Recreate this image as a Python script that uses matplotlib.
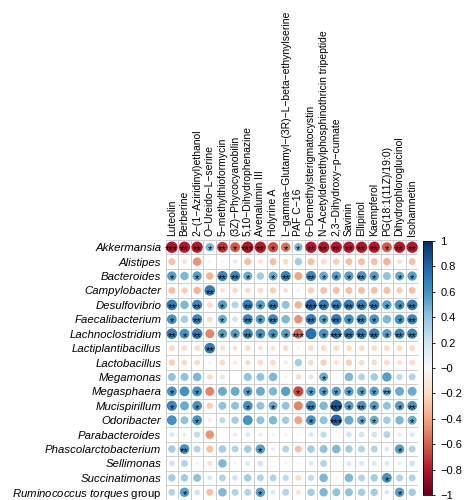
import numpy as np
import matplotlib
matplotlib.use("Agg")
import matplotlib.pyplot as plt
from matplotlib import cm, colors

plt.rcParams["font.family"] = ["Liberation Sans", "DejaVu Sans"]
plt.rcParams["mathtext.fontset"] = "custom"
plt.rcParams["mathtext.it"] = "Liberation Sans:italic"
plt.rcParams["mathtext.rm"] = "Liberation Sans"

M = "\u2212"

genera = ["Akkermansia", "Alistipes", "Bacteroides", "Campylobacter", "Desulfovibrio",
          "Faecalibacterium", "Lachnoclostridium", "Lactiplantibacillus", "Lactobacillus",
          "Megamonas", "Megasphaera", "Mucispirillum", "Odoribacter", "Parabacteroides",
          "Phascolarctobacterium", "Sellimonas", "Succinatimonas",
          "Ruminococcus torques group"]

metabolites = ["Luteolin", "Berberine", "2-(1-Aziridinyl)ethanol", "O-Ureido-L-serine",
               "5-methylthioformycin", "(3Z)-Phycocyanobilin", "5,10-Dihydrophenazine",
               "Avenalumin III", "Holyrine A", "L-gamma-Glutamyl-(3R)-L-beta-ethynylserine",
               "PAF C-16", "6-Demethylsterigmatocystin",
               "N-Acetyldemethylphosphinothricin tripeptide", "2,3-Dihydroxy-p-cumate",
               "Savinin", "Ellipinol", "Kaempferol", "PG(18:1(11Z)/19:0)",
               "Dihydrophloroglucinol", "Isohamnetin"]

# correlation coefficients, one list per genus (columns follow metabolites)
r_akk = [-0.82, -0.8, -0.8, 0.45, -0.72, -0.62, -0.82, -0.8, -0.65, -0.55,
         0.45, -0.8, -0.8, -0.8, -0.8, -0.8, -0.8, -0.62, -0.8, -0.8]
r_ali = [-0.3, -0.15, -0.45, 0.05, -0.05, -0.12, -0.3, -0.15, -0.3, -0.2,
         0.35, -0.3, -0.2, -0.25, -0.3, -0.3, -0.3, -0.35, -0.15, -0.3]
r_bac = [0.55, 0.45, 0.55, -0.35, 0.65, 0.65, 0.5, 0.35, 0.5, 0.65,
         -0.4, 0.65, 0.5, 0.55, 0.55, 0.6, 0.55, 0.4, 0.5, 0.55]
r_cam = [-0.3, -0.25, -0.35, 0.7, -0.15, -0.2, -0.2, -0.2, -0.25, -0.15,
         -0.05, -0.25, -0.3, -0.3, -0.3, -0.3, -0.3, -0.3, -0.25, -0.3]
r_des = [0.7, 0.45, 0.65, -0.2, 0.55, 0.3, 0.7, 0.55, 0.7, 0.4,
         -0.35, 0.8, 0.7, 0.7, 0.7, 0.7, 0.7, 0.55, 0.6, 0.7]
r_fae = [0.6, 0.35, 0.65, -0.2, 0.5, 0.2, 0.65, 0.55, 0.65, 0.45,
         -0.45, 0.7, 0.55, 0.7, 0.6, 0.65, 0.6, 0.45, 0.6, 0.65]
r_lac = [0.7, 0.6, 0.7, -0.5, 0.55, 0.55, 0.65, 0.6, 0.6, 0.55,
         -0.6, 0.75, 0.6, 0.7, 0.7, 0.7, 0.7, 0.55, 0.65, 0.65]
r_lpl = [-0.2, -0.2, -0.2, 0.7, -0.15, -0.15, -0.2, -0.15, -0.15, -0.2,
         -0.05, -0.2, -0.2, -0.2, -0.2, -0.2, -0.2, -0.2, -0.2, -0.2]
r_lbc = [-0.25, -0.2, -0.2, 0.05, -0.2, -0.1, -0.2, -0.2, -0.2, -0.1,
         0.35, -0.2, -0.25, -0.15, -0.25, -0.2, -0.2, -0.2, -0.15, -0.2]
r_mgm = [0.4, 0.4, 0.45, -0.2, 0.15, 0.0, 0.4, 0.4, 0.45, -0.05,
         -0.2, 0.15, 0.5, -0.03, 0.45, 0.3, 0.35, 0.55, 0.25, 0.3]
r_mgs = [0.6, 0.6, 0.6, -0.5, 0.5, 0.5, 0.55, 0.5, 0.45, 0.55,
         -0.65, 0.55, 0.55, 0.55, 0.55, 0.55, 0.55, 0.5, 0.5, 0.5]
r_muc = [0.65, 0.5, 0.6, -0.25, 0.4, 0.4, 0.6, 0.4, 0.5, 0.4,
         -0.5, 0.65, 0.45, 0.85, 0.55, 0.6, 0.55, 0.4, 0.55, 0.6]
r_odo = [0.6, 0.4, 0.6, -0.1, 0.25, 0.35, 0.6, 0.4, 0.45, 0.35,
         -0.4, 0.6, 0.4, 0.8, 0.5, 0.5, 0.5, 0.35, 0.45, 0.5]
r_par = [0.15, 0.1, 0.25, -0.45, 0.0, 0.1, 0.15, 0.1, 0.05, 0.05,
         -0.03, 0.15, 0.25, 0.0, 0.2, 0.2, 0.2, 0.3, 0.1, 0.15]
r_pha = [0.35, 0.6, 0.3, -0.3, 0.35, 0.3, 0.35, 0.55, 0.1, 0.3,
         -0.3, 0.35, 0.4, 0.45, 0.35, 0.3, 0.3, 0.15, 0.55, 0.3]
r_sel = [0.2, 0.3, 0.05, -0.15, 0.45, 0.05, 0.15, 0.2, 0.0, 0.05,
         -0.03, 0.15, 0.3, 0.02, 0.15, 0.15, 0.15, 0.15, 0.1, 0.2]
r_suc = [0.35, 0.35, 0.4, 0.15, 0.3, 0.2, 0.35, 0.3, 0.3, 0.25,
         -0.2, 0.25, 0.45, -0.05, 0.45, 0.3, 0.35, 0.6, 0.3, 0.3]
r_rum = [0.3, 0.55, 0.2, -0.3, 0.45, 0.3, 0.3, 0.55, 0.15, 0.3,
         -0.15, 0.35, 0.45, 0.4, 0.4, 0.35, 0.35, 0.15, 0.55, 0.35]

# significance stars (number of *)
s_akk = [3, 2, 2, 1, 2, 1, 3, 2, 1, 1, 1, 2, 2, 2, 2, 2, 2, 1, 2, 2]
s_ali = [0] * 20
s_bac = [1, 0, 1, 0, 2, 2, 1, 0, 1, 2, 0, 2, 1, 1, 1, 2, 1, 0, 1, 1]
s_cam = [0, 0, 0, 2, 0, 0, 0, 0, 0, 0, 0, 0, 0, 0, 0, 0, 0, 0, 0, 0]
s_des = [2, 0, 2, 0, 1, 0, 2, 1, 2, 0, 0, 3, 2, 2, 2, 2, 2, 1, 1, 2]
s_fae = [1, 0, 2, 0, 1, 0, 2, 1, 2, 0, 0, 2, 1, 2, 1, 2, 1, 0, 1, 2]
s_lac = [2, 1, 2, 0, 1, 1, 2, 1, 1, 1, 3, 0, 1, 3, 2, 2, 2, 1, 2, 2]
s_lpl = [0, 0, 0, 2, 0, 0, 0, 0, 0, 0, 0, 0, 0, 0, 0, 0, 0, 0, 0, 0]
s_lbc = [0] * 20
s_mgm = [0, 0, 0, 0, 0, 0, 0, 0, 0, 0, 0, 0, 1, 0, 0, 0, 0, 0, 0, 0]
s_mgs = [1, 0, 1, 0, 0, 0, 1, 0, 0, 0, 1, 1, 1, 1, 1, 1, 1, 2, 0, 0]
s_muc = [1, 0, 1, 0, 0, 0, 1, 0, 1, 0, 0, 2, 0, 3, 1, 2, 1, 0, 1, 2]
s_odo = [0, 0, 1, 0, 0, 0, 0, 0, 0, 0, 0, 1, 0, 3, 0, 1, 1, 0, 0, 1]
s_par = [0] * 20
s_pha = [0, 2, 0, 0, 0, 0, 0, 1, 0, 0, 0, 0, 0, 0, 0, 0, 0, 0, 1, 0]
s_sel = [0] * 20
s_suc = [0, 0, 0, 0, 0, 0, 0, 0, 0, 0, 0, 0, 0, 0, 0, 0, 0, 1, 0, 0]
s_rum = [0, 1, 0, 0, 0, 0, 0, 1, 0, 0, 0, 0, 0, 0, 0, 0, 0, 0, 1, 0]

r = np.array([r_akk, r_ali, r_bac, r_cam, r_des, r_fae, r_lac, r_lpl, r_lbc, r_mgm,
              r_mgs, r_muc, r_odo, r_par, r_pha, r_sel, r_suc, r_rum])
stars = np.array([s_akk, s_ali, s_bac, s_cam, s_des, s_fae, s_lac, s_lpl, s_lbc, s_mgm,
                  s_mgs, s_muc, s_odo, s_par, s_pha, s_sel, s_suc, s_rum])

W, H = 468, 500
fig = plt.figure(figsize=(W / 100, H / 100), dpi=100)

gl, gr, gt, gb = 165.5, 418.5, 240, 499.5
ax = fig.add_axes([gl / W, 1 - gb / H, (gr - gl) / W, (gb - gt) / H])

nr, nc = r.shape
cmap = plt.get_cmap("RdBu")
norm = colors.Normalize(vmin=-1, vmax=1)

yy, xx = np.mgrid[0:nr, 0:nc]
cell_pt = min((gr - gl) / nc, (gb - gt) / nr) * 72 / 100
sizes = (1.0 * np.sqrt(np.abs(r)) * cell_pt) ** 2
ax.scatter(xx.ravel(), yy.ravel(), s=sizes.ravel(), c=r.ravel(), cmap=cmap, norm=norm,
           linewidths=0, zorder=3)

for i in range(nr):
    for j in range(nc):
        if stars[i, j] > 0:
            ax.text(j, i + 0.22, "*" * stars[i, j], ha="center", va="center",
                    fontsize=8, color="black", zorder=4)

for k in range(nc + 1):
    ax.axvline(k - 0.5, color="#c8c8c8", lw=0.6, zorder=1)
for k in range(nr + 1):
    ax.axhline(k - 0.5, color="#c8c8c8", lw=0.6, zorder=1)

ax.set_xlim(-0.5, nc - 0.5)
ax.set_ylim(nr - 0.5, -0.5)
for sp in ax.spines.values():
    sp.set_visible(False)

ax.xaxis.tick_top()
ax.set_xticks(range(nc))
ax.set_xticklabels([m.replace("-", M) for m in metabolites], rotation=90, fontsize=7.5)
ax.set_yticks(range(nr))
ylabels = [g if g != "Ruminococcus torques group"
           else r"$\mathit{Ruminococcus\ torques}$ group" for g in genera]
ax.set_yticklabels(ylabels, fontsize=8.2)
for t, g in zip(ax.get_yticklabels(), genera):
    if g != "Ruminococcus torques group":
        t.set_fontstyle("italic")
ax.tick_params(axis="x", length=0, pad=3)
ax.tick_params(axis="y", length=0, pad=3)

cax = fig.add_axes([423 / W, 1 - 495 / H, 9 / W, 254 / H])
sm = cm.ScalarMappable(norm=norm, cmap=cmap)
cb = fig.colorbar(sm, cax=cax)
ticks = np.round(np.arange(-1, 1.01, 0.2), 1)
cb.set_ticks(ticks)
cb.set_ticklabels([("%g" % t).replace("-", M) for t in ticks])
cb.ax.tick_params(labelsize=8, length=2, width=0.6, pad=4)
cb.outline.set_linewidth(0.6)

fig.savefig("out.png", dpi=100)
